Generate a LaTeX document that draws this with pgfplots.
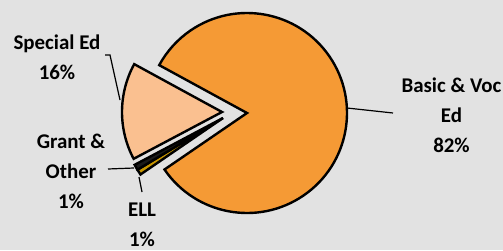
\documentclass[border=0pt]{standalone}
\usepackage{pgfplots}
\pgfplotsset{compat=1.18}
\usepackage{pgfplotstable}
\usepackage{fontspec}
\setmainfont{Carlito}
\definecolor{bg}{HTML}{E2E2E2}
\definecolor{basic}{HTML}{F59A35}
\definecolor{special}{HTML}{FAC090}
\definecolor{ell}{HTML}{C89600}
\definecolor{grant}{HTML}{1A1A1A}

% clockwise order starting at 151.4 deg
\pgfplotstableread{
slice value cx cy
Basic 82.5 247 137
ELL 0.9 223 132
Grant 0.9 223 132
Special 15.7 222 138
}\piedata

\newcommand\getv[2]{\pgfplotstablegetelem{#1}{#2}\of\piedata}
\newcommand\pieslice[5]{%
  \filldraw[fill=#1,draw=black,line width=2.4bp,line join=miter,miter limit=4]
    (axis cs:#2,#3) -- ++(#4:100bp) arc[start angle=#4,end angle=#5,radius=100bp] -- cycle;}

\begin{document}
\begin{tikzpicture}
\pgfmathsetmacro\aZero{151.4}
\getv{0}{value}\pgfmathsetmacro\aOne{\aZero-3.6*\pgfplotsretval}
\getv{1}{value}\pgfmathsetmacro\aTwo{\aOne-3.6*\pgfplotsretval}
\getv{2}{value}\pgfmathsetmacro\aThree{\aTwo-3.6*\pgfplotsretval}
\getv{3}{value}\pgfmathsetmacro\aFour{\aThree-3.6*\pgfplotsretval}
\getv{0}{cx}\let\cxA\pgfplotsretval \getv{0}{cy}\let\cyA\pgfplotsretval
\getv{1}{cx}\let\cxB\pgfplotsretval \getv{1}{cy}\let\cyB\pgfplotsretval
\getv{2}{cx}\let\cxC\pgfplotsretval \getv{2}{cy}\let\cyC\pgfplotsretval
\getv{3}{cx}\let\cxD\pgfplotsretval \getv{3}{cy}\let\cyD\pgfplotsretval
\begin{axis}[
  x=1bp, y=1bp, xmin=0, xmax=503, ymin=0, ymax=250,
  axis lines=none, clip=false,
  axis background/.style={fill=bg},
]
\pieslice{basic}{\cxA}{\cyA}{\aOne}{\aZero}
\pieslice{ell}{\cxB}{\cyB}{\aTwo}{\aOne}
\pieslice{grant}{\cxC}{\cyC}{\aThree}{\aTwo}
\pieslice{special}{\cxD}{\cyD}{\aFour}{\aThree}
% leader lines
\draw[line width=1.2bp] (axis cs:105,195) -- (axis cs:110,195) -- (axis cs:120,150);
\draw[line width=1.2bp] (axis cs:347,142) -- (axis cs:393,137);
\draw[line width=1.2bp] (axis cs:108,81) -- (axis cs:134,82);
\draw[line width=1.2bp] (axis cs:139,73) -- (axis cs:142,58);
% labels
\tikzset{lab/.style={align=center,font=\bfseries\fontsize{21}{30}\selectfont,inner sep=0pt}}
\node[lab] at (axis cs:57,192.5) {Special Ed\\16\%};
\node[lab] at (axis cs:451.5,135) {Basic \& Voc\\Ed\\82\%};
\node[lab] at (axis cs:71,79) {Grant \&\\Other\\1\%};
\node[lab] at (axis cs:142,25) {ELL\\1\%};
\end{axis}
\pgfresetboundingbox
\path[use as bounding box] (current axis.south west) rectangle (current axis.north east);
\end{tikzpicture}
\end{document}
